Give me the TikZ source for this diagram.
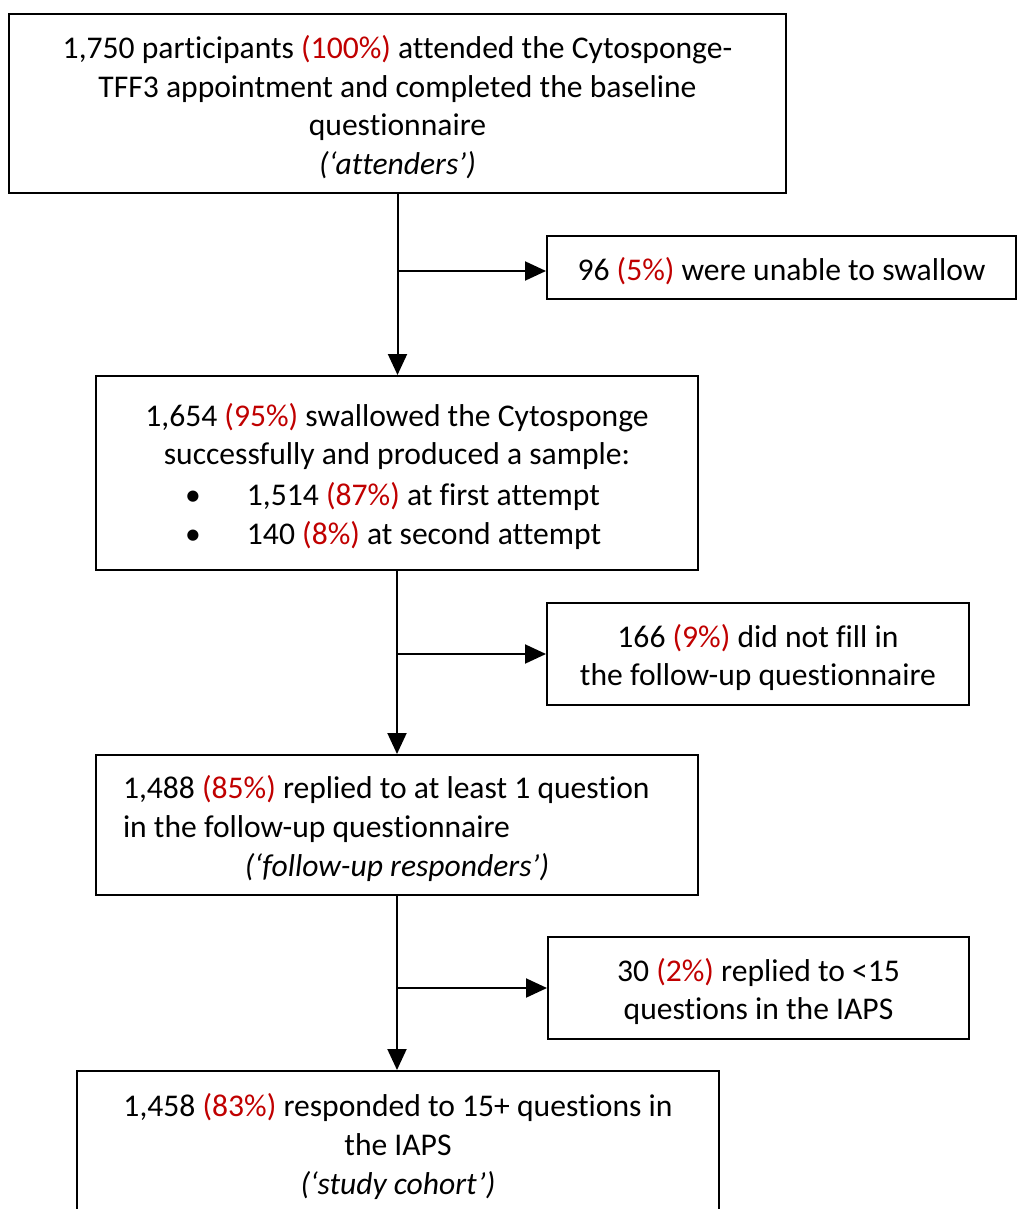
\documentclass[tikz,border=0pt]{standalone}
\usepackage{fontspec}
\setmainfont{Carlito}[Ligatures=NoCommon]
\usetikzlibrary{arrows.meta}
\definecolor{pctred}{HTML}{C00000}
\newcommand{\pct}[1]{\textcolor{pctred}{(#1\%)}}
\newcommand{\topgap}{\rule{0pt}{30pt}}
\newcommand{\bulletline}[1]{\makebox[424pt][l]{\makebox[62pt][l]{\textbullet}#1}}

\begin{document}
\begin{tikzpicture}[x=1pt,y=-1pt,
  box/.style={draw=black,line width=2pt,inner sep=0pt,align=center,
    font=\fontsize{31.6pt}{38.6pt}\selectfont},
  arr/.style={line width=2pt,-{Triangle[length=21pt,width=19pt]}}]
\useasboundingbox (0,0) rectangle (1018,1209);

\node[box,minimum width=777pt,minimum height=179pt] (attend) at (397.5,103.5)
  {\topgap 1,750 participants \pct{100} attended the Cytosponge-\\
   TFF3 appointment and completed the baseline\\
   questionnaire\\
   \textit{(‘attenders’)}};% Top box
\node[box,minimum width=469pt,minimum height=63pt] (unable) at (781.5,267.5)
  {\topgap 96 \pct{5} were unable to swallow};
\node[box,minimum width=602pt,minimum height=194pt] (swallow) at (397,473)
  {\topgap 1,654 \pct{95} swallowed the Cytosponge\\
   successfully and produced a sample:\\[2pt]
   \bulletline{1,514 \pct{87} at first attempt}\\[1pt]
   \bulletline{140 \pct{8} at second attempt}};
\node[box,minimum width=422pt,minimum height=102pt] (nofill) at (758,654)
  {\topgap 166 \pct{9} did not fill in\\
   the follow-up questionnaire};
\node[box,minimum width=602pt,minimum height=140pt] (replied) at (397,825)
  {\topgap\makebox[548pt][l]{1,488 \pct{85} replied to at least 1 question}\\
   \makebox[548pt][l]{in the follow-up questionnaire}\\
   \textit{(‘follow-up responders’)}};
\node[box,minimum width=421pt,minimum height=102pt] (few) at (758.5,988)
  {\topgap 30 \pct{2} replied to <15\\
   questions in the IAPS};
\node[box,minimum width=642pt,minimum height=144pt] (cohort) at (398,1143)
  {\topgap 1,458 \pct{83} responded to 15+ questions in\\
   the IAPS\\
   \textit{(‘study cohort’)}};% runs off the page

\coordinate (b1) at (397.5,271);
\coordinate (b2) at (397,654);
\coordinate (b3) at (397,988);

\draw[arr] (attend.south) -- (attend.south |- swallow.north);
\draw[arr] (b1) -- (b1 -| unable.west);
\draw[arr] (swallow.south) -- (replied.north);
\draw[arr] (b2) -- (b2 -| nofill.west);
\draw[arr] (replied.south) -- (replied.south |- cohort.north);
\draw[arr] (b3) -- (b3 -| few.west);
\end{tikzpicture}
\end{document}
